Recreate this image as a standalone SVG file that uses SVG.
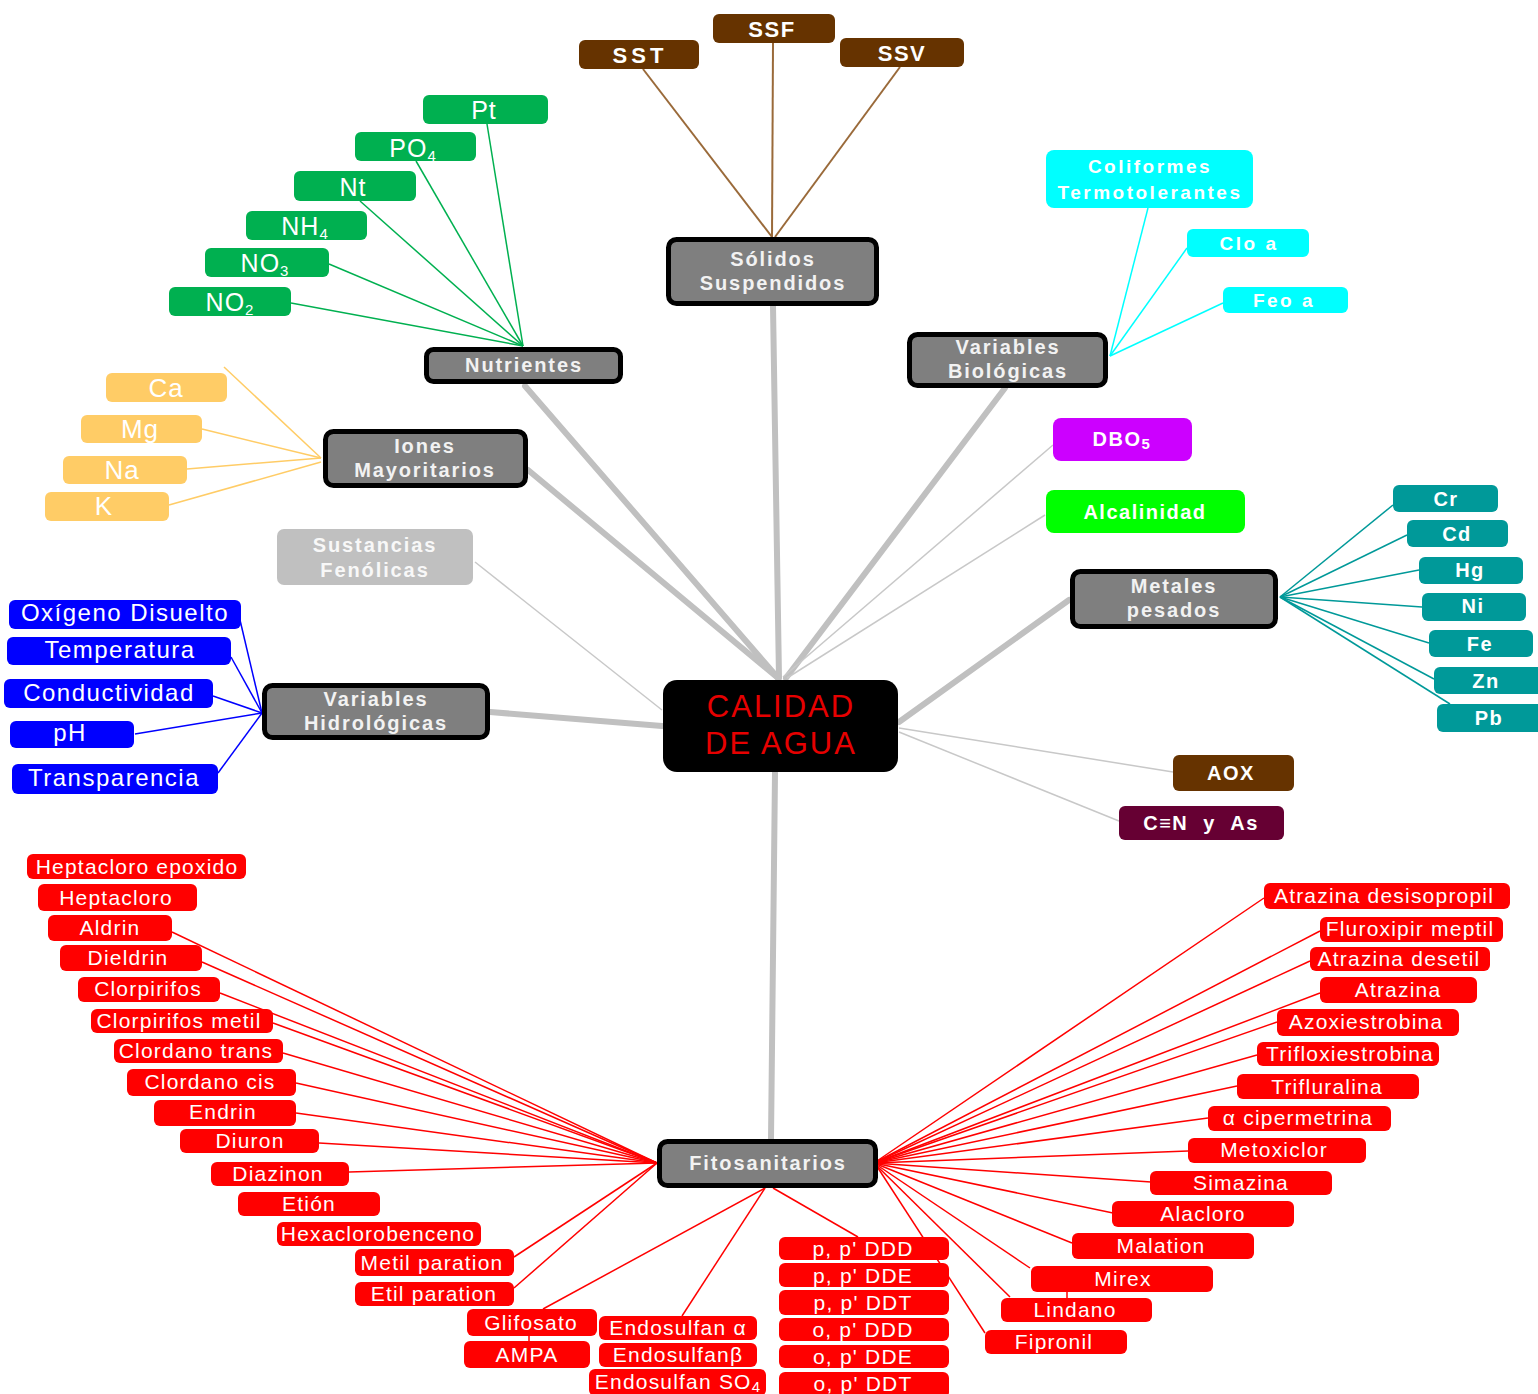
<svg xmlns="http://www.w3.org/2000/svg" width="1538" height="1394" viewBox="0 0 1538 1394">
<style>
text{font-family:"Liberation Sans",Arial,sans-serif;text-anchor:middle;fill:#fff}
.hub rect{fill:#7f7f7f;stroke:#000;stroke-width:5}
.hub text{font-weight:bold;font-size:20px;letter-spacing:1.9px;fill:#f2f2f2}
.brown rect{fill:#663300}
.brown text{font-weight:bold;font-size:22px;letter-spacing:1.5px}
.green rect{fill:#00b050}
.green text{font-size:25px;letter-spacing:1px}
.orange rect{fill:#ffcc66}
.orange text{font-size:26px;letter-spacing:1px}
.cyan rect{fill:#00ffff}
.cyan text{font-weight:bold;font-size:19px;letter-spacing:2.5px}
.blue rect{fill:#0000ff}
.blue text{font-size:24px;letter-spacing:1.5px}
.teal rect{fill:#009999}
.teal text{font-weight:bold;font-size:20px;letter-spacing:1.5px}
.red rect{fill:#ff0000}
.red text{font-size:21px;letter-spacing:1.2px}
.misc text{font-weight:bold;font-size:20px;letter-spacing:1.5px}
.sub{font-size:15px}
#connectors line{fill:none}
.main{stroke:#c0c0c0;stroke-width:6;stroke-linecap:round}
.thin{stroke:#c8c8c8;stroke-width:1.5}
.cb{stroke:#9a6a3a;stroke-width:2}
.cg{stroke:#00b050;stroke-width:1.5}
.co{stroke:#ffcc66;stroke-width:1.5}
.cc{stroke:#00ffff;stroke-width:1.5}
.cbl{stroke:#0000ff;stroke-width:1.5}
.ct{stroke:#009999;stroke-width:1.5}
.cr{stroke:#ff0000;stroke-width:1.5}
</style>
<rect width="1538" height="1394" fill="#fff"/>
<g id="connectors">
<line class="main" x1="773" y1="306" x2="779" y2="678"/>
<line class="main" x1="525" y1="386" x2="778" y2="678"/>
<line class="main" x1="528" y1="470" x2="778" y2="678"/>
<line class="main" x1="1005" y1="388" x2="786" y2="678"/>
<line class="main" x1="1069" y1="600" x2="899" y2="722"/>
<line class="main" x1="490" y1="712" x2="662" y2="726"/>
<line class="main" x1="775" y1="773" x2="771" y2="1139"/>
<line class="thin" x1="475" y1="562" x2="662" y2="710"/>
<line class="thin" x1="783" y1="677" x2="1053" y2="445"/>
<line class="thin" x1="787" y1="678" x2="1045" y2="515"/>
<line class="thin" x1="899" y1="728" x2="1173" y2="772"/>
<line class="thin" x1="899" y1="732" x2="1119" y2="821"/>
<line class="cb" x1="643" y1="69" x2="772" y2="237"/>
<line class="cb" x1="773" y1="43" x2="772" y2="237"/>
<line class="cb" x1="900" y1="67" x2="775" y2="237"/>
<line class="cg" x1="487" y1="124" x2="523" y2="346"/>
<line class="cg" x1="416" y1="161" x2="523" y2="346"/>
<line class="cg" x1="360" y1="201" x2="523" y2="346"/>
<line class="cg" x1="329" y1="264" x2="523" y2="346"/>
<line class="cg" x1="291" y1="303" x2="523" y2="346"/>
<line class="co" x1="224" y1="367" x2="321" y2="458"/>
<line class="co" x1="202" y1="429" x2="321" y2="458"/>
<line class="co" x1="187" y1="469" x2="321" y2="458"/>
<line class="co" x1="169" y1="505" x2="321" y2="462"/>
<line class="cc" x1="1148" y1="208" x2="1110" y2="356"/>
<line class="cc" x1="1187" y1="248" x2="1110" y2="356"/>
<line class="cc" x1="1223" y1="303" x2="1110" y2="356"/>
<line class="cbl" x1="240" y1="620" x2="262" y2="713"/>
<line class="cbl" x1="231" y1="657" x2="262" y2="713"/>
<line class="cbl" x1="213" y1="696" x2="262" y2="713"/>
<line class="cbl" x1="135" y1="734" x2="262" y2="713"/>
<line class="cbl" x1="218" y1="773" x2="262" y2="713"/>
<line class="ct" x1="1280" y1="597" x2="1393" y2="505"/>
<line class="ct" x1="1280" y1="597" x2="1407" y2="535"/>
<line class="ct" x1="1280" y1="597" x2="1419" y2="570"/>
<line class="ct" x1="1280" y1="597" x2="1422" y2="607"/>
<line class="ct" x1="1280" y1="597" x2="1429" y2="643"/>
<line class="ct" x1="1280" y1="597" x2="1434" y2="679"/>
<line class="ct" x1="1280" y1="597" x2="1450" y2="704"/>
<line class="cr" x1="172" y1="932" x2="657" y2="1163"/>
<line class="cr" x1="202" y1="962" x2="657" y2="1163"/>
<line class="cr" x1="220" y1="993" x2="657" y2="1163"/>
<line class="cr" x1="273" y1="1023" x2="657" y2="1163"/>
<line class="cr" x1="283" y1="1053" x2="657" y2="1163"/>
<line class="cr" x1="296" y1="1083" x2="657" y2="1163"/>
<line class="cr" x1="296" y1="1113" x2="657" y2="1163"/>
<line class="cr" x1="319" y1="1143" x2="657" y2="1163"/>
<line class="cr" x1="349" y1="1172" x2="657" y2="1163"/>
<line class="cr" x1="514" y1="1257" x2="657" y2="1163"/>
<line class="cr" x1="514" y1="1288" x2="657" y2="1163"/>
<line class="cr" x1="765" y1="1188" x2="543" y2="1309"/>
<line class="cr" x1="765" y1="1188" x2="682" y2="1316"/>
<line class="cr" x1="773" y1="1188" x2="858" y2="1237"/>
<line class="cr" x1="529" y1="1336" x2="529" y2="1341"/>
<line class="cr" x1="874" y1="1163" x2="1264" y2="898"/>
<line class="cr" x1="874" y1="1163" x2="1320" y2="931"/>
<line class="cr" x1="874" y1="1163" x2="1310" y2="961"/>
<line class="cr" x1="874" y1="1163" x2="1320" y2="993"/>
<line class="cr" x1="874" y1="1163" x2="1277" y2="1022"/>
<line class="cr" x1="874" y1="1163" x2="1257" y2="1055"/>
<line class="cr" x1="874" y1="1163" x2="1237" y2="1086"/>
<line class="cr" x1="874" y1="1163" x2="1208" y2="1118"/>
<line class="cr" x1="874" y1="1163" x2="1188" y2="1151"/>
<line class="cr" x1="874" y1="1163" x2="1151" y2="1182"/>
<line class="cr" x1="874" y1="1163" x2="1113" y2="1213"/>
<line class="cr" x1="874" y1="1163" x2="1072" y2="1243"/>
<line class="cr" x1="874" y1="1163" x2="1030" y2="1268"/>
<line class="cr" x1="874" y1="1163" x2="1010" y2="1297"/>
<line class="cr" x1="878" y1="1168" x2="985" y2="1333"/>
<line class="cr" x1="1067" y1="1292" x2="1067" y2="1298"/>
</g>

<g id="center"><rect x="663" y="680" width="235" height="92" rx="14" fill="#000"/>
<text x="781" y="717" style="font-size:31px;letter-spacing:2px;fill:#e60000">CALIDAD</text>
<text x="781" y="754" style="font-size:31px;letter-spacing:2px;fill:#e60000">DE AGUA</text></g>

<g id="solidos" class="hub"><rect x="668.5" y="239.5" width="208" height="64" rx="8"/><text x="773" y="266">Sólidos</text><text x="773" y="290">Suspendidos</text></g>
<g id="nutrientes" class="hub"><rect x="426.5" y="349.5" width="194" height="32" rx="7"/><text x="524" y="372">Nutrientes</text></g>
<g id="iones" class="hub"><rect x="325.5" y="431.5" width="200" height="54" rx="8"/><text x="425" y="453">Iones</text><text x="425" y="477">Mayoritarios</text></g>
<g id="hidrologicas" class="hub"><rect x="264.5" y="685.5" width="223" height="52" rx="8"/><text x="376" y="706">Variables</text><text x="376" y="730">Hidrológicas</text></g>
<g id="biologicas" class="hub"><rect x="909.5" y="334.5" width="196" height="51" rx="8"/><text x="1008" y="354">Variables</text><text x="1008" y="378">Biológicas</text></g>
<g id="metales" class="hub"><rect x="1072.5" y="571.5" width="203" height="55" rx="8"/><text x="1174" y="593">Metales</text><text x="1174" y="617">pesados</text></g>
<g id="fitosanitarios" class="hub"><rect x="659.5" y="1141.5" width="216" height="44" rx="8"/><text x="768" y="1170">Fitosanitarios</text></g>

<g id="sst" class="brown"><rect x="579" y="40" width="120" height="29" rx="6"/><text x="640" y="63" style="letter-spacing:4px">SST</text></g>
<g id="ssf" class="brown"><rect x="713" y="14" width="122" height="29" rx="6"/><text x="772" y="37">SSF</text></g>
<g id="ssv" class="brown"><rect x="840" y="38" width="124" height="29" rx="6"/><text x="902" y="61">SSV</text></g>

<g id="pt" class="green"><rect x="423" y="95" width="125" height="29" rx="6"/><text x="484" y="119">Pt</text></g>
<g id="po4" class="green"><rect x="355" y="132" width="121" height="29" rx="6"/><text x="413" y="157">PO<tspan class="sub" dy="4">4</tspan></text></g>
<g id="nt" class="green"><rect x="294" y="171" width="122" height="30" rx="6"/><text x="353" y="196">Nt</text></g>
<g id="nh4" class="green"><rect x="246" y="211" width="121" height="29" rx="6"/><text x="305" y="235">NH<tspan class="sub" dy="4">4</tspan></text></g>
<g id="no3" class="green"><rect x="205" y="248" width="124" height="29" rx="6"/><text x="265" y="272">NO<tspan class="sub" dy="4">3</tspan></text></g>
<g id="no2" class="green"><rect x="169" y="287" width="122" height="29" rx="6"/><text x="230" y="311">NO<tspan class="sub" dy="4">2</tspan></text></g>

<g id="ca" class="orange"><rect x="106" y="373" width="121" height="29" rx="6"/><text x="166" y="397">Ca</text></g>
<g id="mg" class="orange"><rect x="81" y="415" width="121" height="28" rx="6"/><text x="140" y="438">Mg</text></g>
<g id="na" class="orange"><rect x="63" y="456" width="124" height="28" rx="6"/><text x="122" y="479">Na</text></g>
<g id="k" class="orange"><rect x="45" y="492" width="124" height="29" rx="6"/><text x="104" y="515">K</text></g>

<g id="fenolicas"><rect x="277" y="529" width="196" height="56" rx="7" fill="#c0c0c0"/><text x="375" y="552" style="font-weight:bold;font-size:20px;letter-spacing:1.9px;fill:#f8f8f8">Sustancias</text><text x="375" y="577" style="font-weight:bold;font-size:20px;letter-spacing:1.9px;fill:#f8f8f8">Fenólicas</text></g>

<g id="od" class="blue"><rect x="9" y="600" width="232" height="29" rx="6"/><text x="125" y="621">Oxígeno Disuelto</text></g>
<g id="temp" class="blue"><rect x="7" y="637" width="224" height="28" rx="6"/><text x="120" y="658">Temperatura</text></g>
<g id="cond" class="blue"><rect x="4" y="679" width="209" height="29" rx="6"/><text x="109" y="701">Conductividad</text></g>
<g id="ph" class="blue"><rect x="10" y="721" width="124" height="27" rx="6"/><text x="70" y="741">pH</text></g>
<g id="transp" class="blue"><rect x="12" y="764" width="206" height="30" rx="6"/><text x="114" y="786">Transparencia</text></g>

<g id="coliformes" class="cyan"><rect x="1046" y="150" width="207" height="58" rx="8"/><text x="1150" y="173">Coliformes</text><text x="1150" y="199">Termotolerantes</text></g>
<g id="cloa" class="cyan"><rect x="1187" y="229" width="122" height="28" rx="6"/><text x="1249" y="250">Clo a</text></g>
<g id="feoa" class="cyan"><rect x="1223" y="287" width="125" height="26" rx="6"/><text x="1284" y="307">Feo a</text></g>

<g id="dbo5" class="misc"><rect x="1053" y="418" width="139" height="43" rx="8" fill="#cc00ff"/><text x="1122" y="446">DBO<tspan class="sub" dy="3">5</tspan></text></g>
<g id="alcalinidad" class="misc"><rect x="1046" y="490" width="199" height="43" rx="8" fill="#00ff00"/><text x="1145" y="519">Alcalinidad</text></g>
<g id="aox" class="misc"><rect x="1173" y="755" width="121" height="36" rx="6" fill="#663300"/><text x="1231" y="780">AOX</text></g>
<g id="cn" class="misc"><rect x="1119" y="806" width="165" height="34" rx="6" fill="#660033"/><text x="1201" y="830" style="word-spacing:8px">C≡N y As</text></g>

<g id="cr" class="teal"><rect x="1393" y="485" width="105" height="27" rx="6"/><text x="1446" y="506">Cr</text></g>
<g id="cd" class="teal"><rect x="1407" y="520" width="101" height="27" rx="6"/><text x="1457" y="541">Cd</text></g>
<g id="hg" class="teal"><rect x="1419" y="557" width="104" height="27" rx="6"/><text x="1470" y="577">Hg</text></g>
<g id="ni" class="teal"><rect x="1422" y="593" width="104" height="28" rx="6"/><text x="1473" y="613">Ni</text></g>
<g id="fe" class="teal"><rect x="1429" y="630" width="104" height="27" rx="6"/><text x="1480" y="651">Fe</text></g>
<g id="zn" class="teal"><rect x="1434" y="667" width="110" height="27" rx="6"/><text x="1486" y="688">Zn</text></g>
<g id="pb" class="teal"><rect x="1437" y="704" width="110" height="28" rx="6"/><text x="1489" y="725">Pb</text></g>

<g id="heptacloro-epoxido" class="red"><rect x="27" y="854" width="219" height="25" rx="6"/><text x="137" y="874">Heptacloro epoxido</text></g>
<g id="heptacloro" class="red"><rect x="38" y="884" width="159" height="27" rx="6"/><text x="116" y="905">Heptacloro</text></g>
<g id="aldrin" class="red"><rect x="48" y="915" width="124" height="26" rx="6"/><text x="110" y="935">Aldrin</text></g>
<g id="dieldrin" class="red"><rect x="60" y="945" width="142" height="26" rx="6"/><text x="128" y="965">Dieldrin</text></g>
<g id="clorpirifos" class="red"><rect x="78" y="977" width="142" height="25" rx="6"/><text x="148" y="996">Clorpirifos</text></g>
<g id="clorpirifos-metil" class="red"><rect x="91" y="1009" width="182" height="24" rx="6"/><text x="179" y="1028">Clorpirifos metil</text></g>
<g id="clordano-trans" class="red"><rect x="114" y="1039" width="169" height="24" rx="6"/><text x="196" y="1058">Clordano trans</text></g>
<g id="clordano-cis" class="red"><rect x="127" y="1069" width="169" height="27" rx="6"/><text x="210" y="1089">Clordano cis</text></g>
<g id="endrin" class="red"><rect x="154" y="1100" width="142" height="26" rx="6"/><text x="223" y="1119">Endrin</text></g>
<g id="diuron" class="red"><rect x="180" y="1129" width="139" height="24" rx="6"/><text x="250" y="1148">Diuron</text></g>
<g id="diazinon" class="red"><rect x="211" y="1162" width="138" height="24" rx="6"/><text x="278" y="1181">Diazinon</text></g>
<g id="etion" class="red"><rect x="238" y="1192" width="142" height="24" rx="6"/><text x="309" y="1211">Etión</text></g>
<g id="hexaclorobenceno" class="red"><rect x="277" y="1222" width="204" height="24" rx="6"/><text x="378" y="1241">Hexaclorobenceno</text></g>
<g id="metil-paration" class="red"><rect x="355" y="1249" width="159" height="27" rx="6"/><text x="432" y="1270">Metil paration</text></g>
<g id="etil-paration" class="red"><rect x="355" y="1282" width="159" height="24" rx="6"/><text x="434" y="1301">Etil paration</text></g>
<g id="glifosato" class="red"><rect x="467" y="1309" width="130" height="27" rx="6"/><text x="531" y="1330">Glifosato</text></g>
<g id="ampa" class="red"><rect x="464" y="1341" width="126" height="27" rx="6"/><text x="527" y="1362">AMPA</text></g>
<g id="endosulfan-a" class="red"><rect x="599" y="1316" width="158" height="24" rx="6"/><text x="678" y="1335">Endosulfan α</text></g>
<g id="endosulfan-b" class="red"><rect x="599" y="1343" width="158" height="24" rx="6"/><text x="678" y="1362">Endosulfanβ</text></g>
<g id="endosulfan-so4" class="red"><rect x="589" y="1369" width="177" height="27" rx="6"/><text x="678" y="1389">Endosulfan SO<tspan class="sub" dy="3">4</tspan></text></g>
<g id="ppddd" class="red"><rect x="779" y="1237" width="170" height="23" rx="6"/><text x="863" y="1256">p, p' DDD</text></g>
<g id="ppdde" class="red"><rect x="779" y="1263" width="170" height="24" rx="6"/><text x="863" y="1283">p, p' DDE</text></g>
<g id="ppddt" class="red"><rect x="779" y="1290" width="170" height="25" rx="6"/><text x="863" y="1310">p, p' DDT</text></g>
<g id="opddd" class="red"><rect x="779" y="1318" width="170" height="23" rx="6"/><text x="863" y="1337">o, p' DDD</text></g>
<g id="opdde" class="red"><rect x="779" y="1345" width="170" height="23" rx="6"/><text x="863" y="1364">o, p' DDE</text></g>
<g id="opddt" class="red"><rect x="779" y="1372" width="170" height="26" rx="6"/><text x="863" y="1391">o, p' DDT</text></g>
<g id="atrazina-desisopropil" class="red"><rect x="1264" y="883" width="246" height="26" rx="6"/><text x="1384" y="903">Atrazina desisopropil</text></g>
<g id="fluroxipir" class="red"><rect x="1320" y="917" width="183" height="25" rx="6"/><text x="1410" y="936">Fluroxipir meptil</text></g>
<g id="atrazina-desetil" class="red"><rect x="1310" y="947" width="180" height="24" rx="6"/><text x="1399" y="966">Atrazina desetil</text></g>
<g id="atrazina" class="red"><rect x="1320" y="977" width="157" height="26" rx="6"/><text x="1398" y="997">Atrazina</text></g>
<g id="azoxiestrobina" class="red"><rect x="1277" y="1009" width="182" height="27" rx="6"/><text x="1366" y="1029">Azoxiestrobina</text></g>
<g id="trifloxiestrobina" class="red"><rect x="1257" y="1042" width="182" height="24" rx="6"/><text x="1350" y="1061">Trifloxiestrobina</text></g>
<g id="trifluralina" class="red"><rect x="1237" y="1074" width="182" height="25" rx="6"/><text x="1327" y="1094">Trifluralina</text></g>
<g id="cipermetrina" class="red"><rect x="1208" y="1106" width="183" height="25" rx="6"/><text x="1298" y="1125">α cipermetrina</text></g>
<g id="metoxiclor" class="red"><rect x="1188" y="1138" width="178" height="25" rx="6"/><text x="1274" y="1157">Metoxiclor</text></g>
<g id="simazina" class="red"><rect x="1150" y="1171" width="182" height="24" rx="6"/><text x="1241" y="1190">Simazina</text></g>
<g id="alacloro" class="red"><rect x="1112" y="1201" width="182" height="26" rx="6"/><text x="1203" y="1221">Alacloro</text></g>
<g id="malation" class="red"><rect x="1072" y="1233" width="182" height="26" rx="6"/><text x="1161" y="1253">Malation</text></g>
<g id="mirex" class="red"><rect x="1031" y="1266" width="182" height="26" rx="6"/><text x="1123" y="1286">Mirex</text></g>
<g id="lindano" class="red"><rect x="1001" y="1298" width="151" height="24" rx="6"/><text x="1075" y="1317">Lindano</text></g>
<g id="fipronil" class="red"><rect x="985" y="1330" width="142" height="24" rx="6"/><text x="1054" y="1349">Fipronil</text></g>
</svg>
